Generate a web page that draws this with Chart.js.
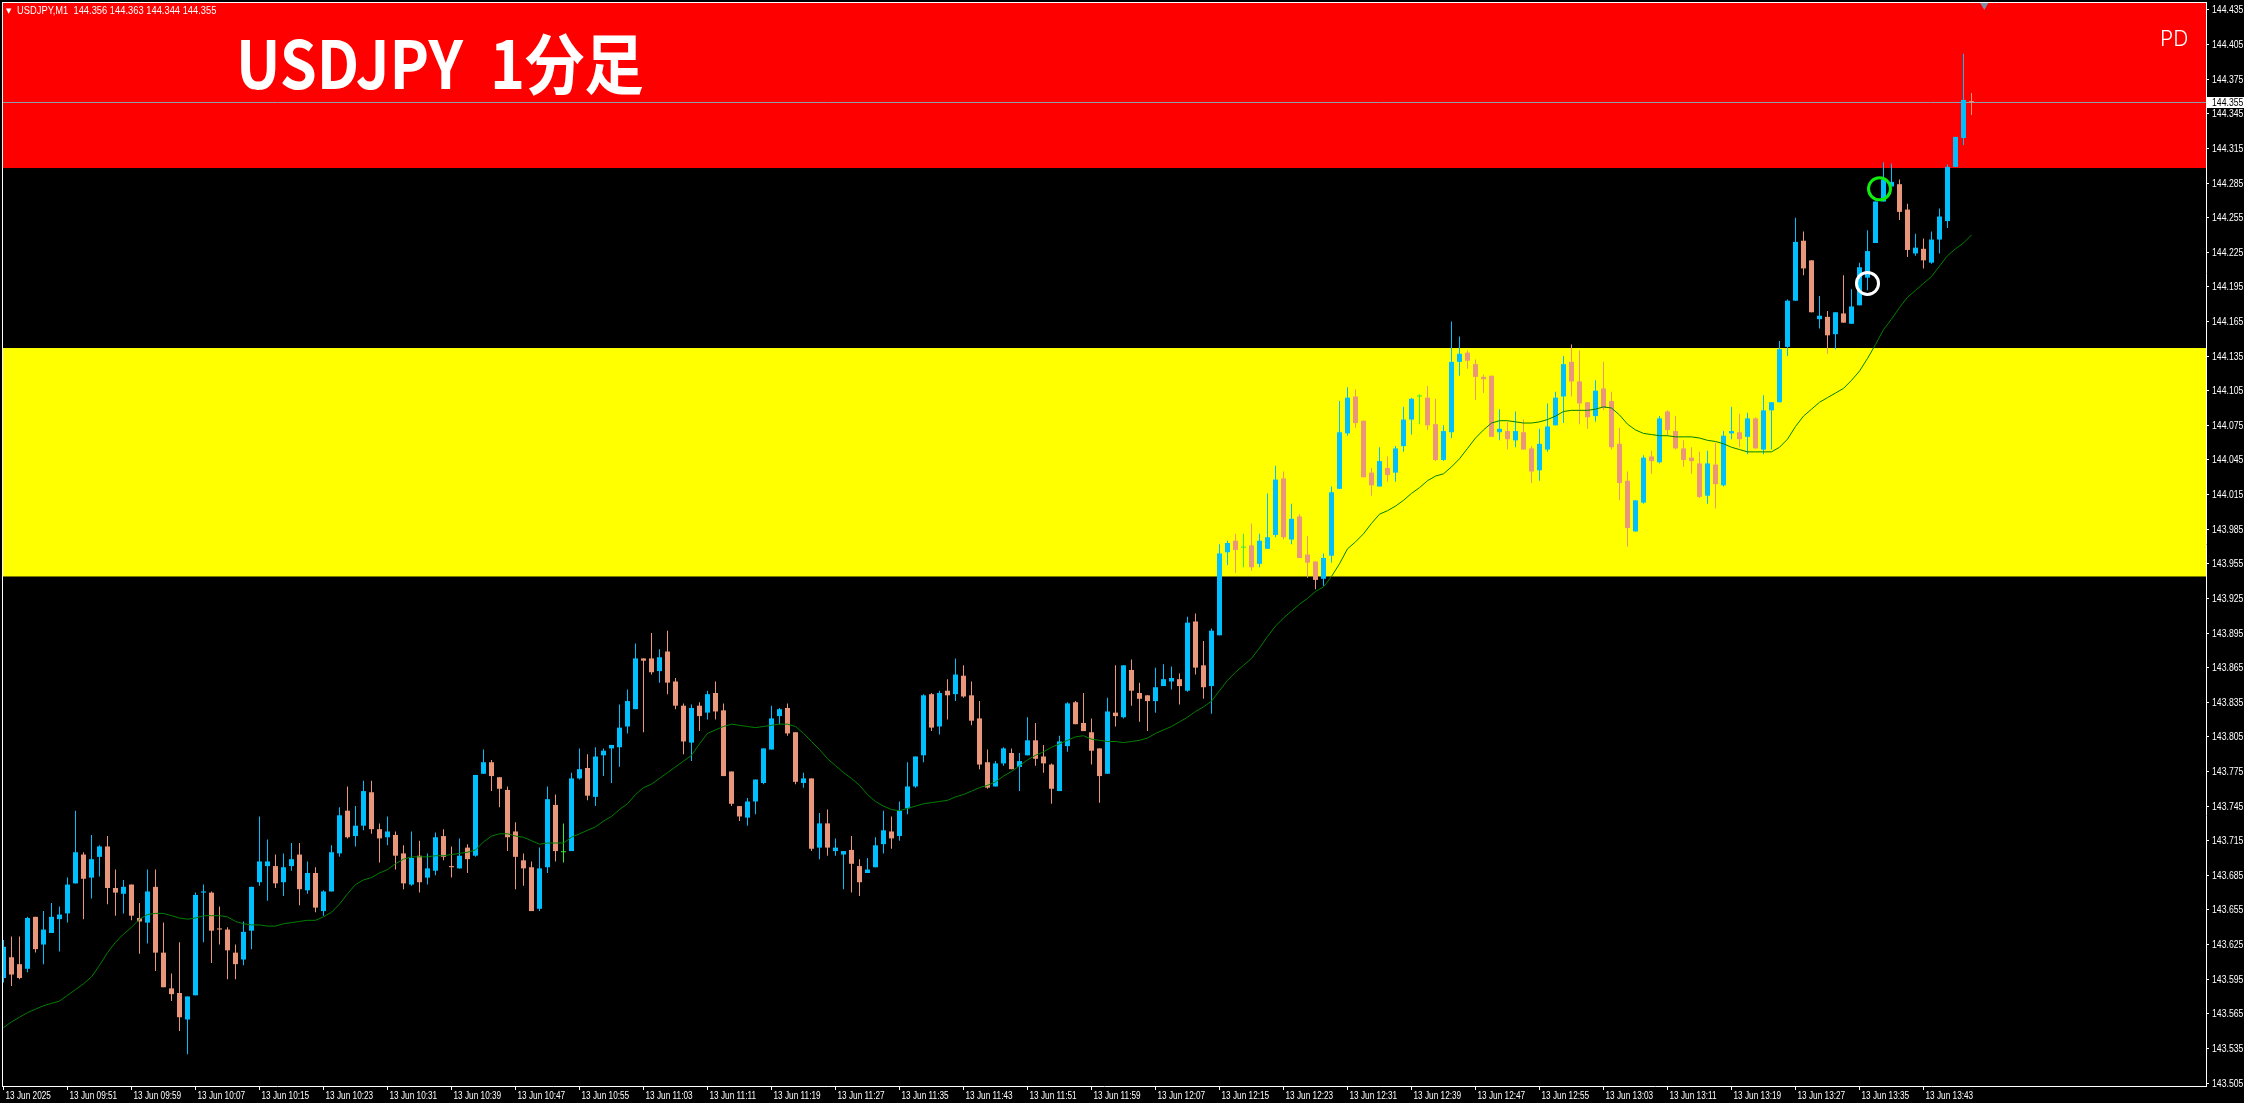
<!DOCTYPE html>
<html>
<head>
<meta charset="utf-8">
<title>USDJPY M1</title>
<script src="https://cdn.jsdelivr.net/npm/chart.js@4.4.1/dist/chart.umd.min.js"></script>
<style>
  html, body { margin: 0; padding: 0; background: #000; overflow: hidden; }
  canvas { display: block; }
</style>
</head>
<body>
<canvas id="chart" width="2244" height="1103"></canvas>
<script>
// ---- data ----
const symbol = "USDJPY,M1";
const title = "USDJPY  1分足";
const cornerTag = "PD";

const xTickLabels = [
  "13 Jun 2025", "13 Jun 09:51", "13 Jun 09:59", "13 Jun 10:07", "13 Jun 10:15", "13 Jun 10:23",
  "13 Jun 10:31", "13 Jun 10:39", "13 Jun 10:47", "13 Jun 10:55", "13 Jun 11:03", "13 Jun 11:11",
  "13 Jun 11:19", "13 Jun 11:27", "13 Jun 11:35", "13 Jun 11:43", "13 Jun 11:51", "13 Jun 11:59",
  "13 Jun 12:07", "13 Jun 12:15", "13 Jun 12:23", "13 Jun 12:31", "13 Jun 12:39", "13 Jun 12:47",
  "13 Jun 12:55", "13 Jun 13:03", "13 Jun 13:11", "13 Jun 13:19", "13 Jun 13:27", "13 Jun 13:35",
  "13 Jun 13:43"
];
const barsPerLabel = 8;

const yTickValues = [
  143.505, 143.535, 143.565, 143.595, 143.625, 143.655, 143.685, 143.715, 143.745, 143.775,
  143.805, 143.835, 143.865, 143.895, 143.925, 143.955, 143.985, 144.015, 144.045, 144.075,
  144.105, 144.135, 144.165, 144.195, 144.225, 144.255, 144.285, 144.315, 144.345, 144.375,
  144.405, 144.435
];

const opens = [
  143.596, 143.614, 143.608, 143.604, 143.649, 143.625, 143.635, 143.647, 143.652, 143.678,
  143.703, 143.683, 143.701, 143.710, 143.674, 143.669, 143.677, 143.648, 143.644, 143.675,
  143.618, 143.587, 143.583, 143.560, 143.581, 143.670, 143.670, 143.639, 143.638, 143.618,
  143.612, 143.637, 143.679, 143.693, 143.693, 143.679, 143.693, 143.703, 143.672, 143.687,
  143.654, 143.671, 143.704, 143.741, 143.719, 143.728, 143.757, 143.725, 143.718, 143.720,
  143.704, 143.677, 143.702, 143.683, 143.689, 143.719, 143.693, 143.691, 143.709, 143.702,
  143.773, 143.783, 143.770, 143.759, 143.723, 143.698, 143.692, 143.656, 143.692, 143.746,
  143.705, 143.706, 143.769, 143.778, 143.753, 143.789, 143.795, 143.796, 143.814, 143.829,
  143.873, 143.873, 143.862, 143.879, 143.853, 143.832, 143.800, 143.832, 143.826, 143.843,
  143.828, 143.775, 143.745, 143.735, 143.749, 143.765, 143.794, 143.823, 143.830, 143.809,
  143.765, 143.769, 143.709, 143.730, 143.706, 143.703, 143.707, 143.693, 143.687, 143.692,
  143.712, 143.723, 143.719, 143.743, 143.762, 143.789, 143.842, 143.814, 143.845, 143.842,
  143.858, 143.841, 143.821, 143.783, 143.762, 143.782, 143.791, 143.779, 143.789, 143.802,
  143.788, 143.781, 143.758, 143.797, 143.835, 143.817, 143.809, 143.795, 143.773, 143.826,
  143.822, 143.863, 143.843, 143.841, 143.836, 143.849, 143.853, 143.855, 143.845, 143.905,
  143.867, 143.849, 143.893, 143.965, 143.975, 143.969, 143.971, 143.955, 143.968, 143.980,
  144.029, 143.976, 143.996, 143.963, 143.957, 143.942, 143.962, 144.020, 144.068, 144.100,
  144.079, 144.034, 144.022, 144.038, 144.034, 144.057, 144.080, 144.100, 144.099, 144.076,
  144.045, 144.069, 144.130, 144.138, 144.128, 144.117, 144.118, 144.069, 144.070, 144.062,
  144.069, 144.055, 144.036, 144.054, 144.075, 144.100, 144.130, 144.113, 144.095, 144.083,
  144.107, 144.096, 144.059, 144.027, 143.983, 144.008, 144.048, 144.043, 144.087, 144.070,
  144.055, 144.047, 144.042, 144.014, 144.041, 144.023, 144.068, 144.069, 144.065, 144.081,
  144.054, 144.088, 144.095, 144.143, 144.183, 144.235, 144.218, 144.167, 144.169, 144.154,
  144.172, 144.163, 144.179, 144.203, 144.233, 144.269, 144.282, 144.284, 144.262, 144.224,
  144.228, 144.216, 144.236, 144.252, 144.299, 144.324, 144.356
];
const highs = [
  143.629, 143.632, 143.632, 143.649, 143.649, 143.654, 143.661, 143.658, 143.683, 143.741,
  143.705, 143.720, 143.711, 143.719, 143.690, 143.681, 143.677, 143.661, 143.690, 143.690,
  143.644, 143.600, 143.627, 143.580, 143.670, 143.677, 143.671, 143.658, 143.640, 143.625,
  143.645, 143.675, 143.736, 143.716, 143.703, 143.704, 143.713, 143.713, 143.697, 143.692,
  143.672, 143.711, 143.744, 143.762, 143.745, 143.767, 143.767, 143.730, 143.736, 143.723,
  143.711, 143.723, 143.715, 143.704, 143.722, 143.725, 143.710, 143.717, 143.712, 143.772,
  143.794, 143.785, 143.770, 143.762, 143.731, 143.704, 143.697, 143.709, 143.762, 143.755,
  143.730, 143.774, 143.795, 143.790, 143.796, 143.795, 143.798, 143.833, 143.846, 143.886,
  143.873, 143.895, 143.881, 143.897, 143.856, 143.834, 143.833, 143.835, 143.845, 143.853,
  143.834, 143.775, 143.745, 143.752, 143.768, 143.795, 143.832, 143.830, 143.834, 143.809,
  143.774, 143.769, 143.739, 143.742, 143.717, 143.706, 143.719, 143.699, 143.700, 143.718,
  143.741, 143.736, 143.749, 143.783, 143.788, 143.842, 143.843, 143.845, 143.855, 143.873,
  143.867, 143.853, 143.836, 143.794, 143.784, 143.796, 143.795, 143.791, 143.822, 143.817,
  143.798, 143.782, 143.806, 143.835, 143.836, 143.843, 143.821, 143.795, 143.839, 143.867,
  143.867, 143.872, 143.852, 143.841, 143.865, 143.868, 143.866, 143.860, 143.909, 143.912,
  143.888, 143.899, 143.972, 143.975, 143.981, 143.981, 143.990, 143.981, 144.016, 144.040,
  144.035, 144.007, 143.998, 143.979, 143.957, 143.964, 144.022, 144.096, 144.108, 144.106,
  144.079, 144.038, 144.056, 144.048, 144.057, 144.091, 144.099, 144.102, 144.109, 144.098,
  144.075, 144.165, 144.152, 144.140, 144.132, 144.119, 144.118, 144.089, 144.078, 144.087,
  144.080, 144.057, 144.072, 144.094, 144.104, 144.135, 144.145, 144.140, 144.095, 144.114,
  144.130, 144.104, 144.073, 144.035, 144.010, 144.049, 144.053, 144.083, 144.088, 144.083,
  144.062, 144.056, 144.052, 144.053, 144.060, 144.070, 144.091, 144.085, 144.086, 144.082,
  144.101, 144.095, 144.148, 144.184, 144.255, 144.243, 144.218, 144.187, 144.174, 144.173,
  144.205, 144.193, 144.216, 144.244, 144.269, 144.303, 144.302, 144.288, 144.267, 144.241,
  144.237, 144.243, 144.263, 144.301, 144.325, 144.397, 144.363
];
const lows = [
  143.592, 143.589, 143.595, 143.601, 143.618, 143.608, 143.635, 143.619, 143.644, 143.678,
  143.647, 143.665, 143.684, 143.660, 143.650, 143.652, 143.646, 143.617, 143.626, 143.602,
  143.588, 143.576, 143.550, 143.530, 143.581, 143.627, 143.609, 143.625, 143.595, 143.595,
  143.607, 143.621, 143.676, 143.663, 143.674, 143.667, 143.689, 143.659, 143.669, 143.653,
  143.650, 143.671, 143.701, 143.717, 143.710, 143.724, 143.721, 143.696, 143.711, 143.690,
  143.673, 143.676, 143.670, 143.677, 143.685, 143.698, 143.683, 143.691, 143.687, 143.701,
  143.773, 143.758, 143.744, 143.706, 143.673, 143.676, 143.654, 143.654, 143.687, 143.697,
  143.696, 143.706, 143.768, 143.750, 143.745, 143.771, 143.765, 143.779, 143.808, 143.829,
  143.809, 143.859, 143.852, 143.842, 143.829, 143.790, 143.784, 143.810, 143.820, 143.820,
  143.771, 143.745, 143.732, 143.728, 143.738, 143.764, 143.794, 143.816, 143.806, 143.764,
  143.761, 143.706, 143.699, 143.702, 143.702, 143.673, 143.670, 143.667, 143.687, 143.692,
  143.704, 143.708, 143.715, 143.738, 143.761, 143.783, 143.810, 143.807, 143.820, 143.836,
  143.839, 143.815, 143.777, 143.760, 143.762, 143.780, 143.777, 143.758, 143.789, 143.780,
  143.774, 143.747, 143.758, 143.792, 143.816, 143.810, 143.781, 143.748, 143.773, 143.814,
  143.821, 143.832, 143.818, 143.810, 143.826, 143.849, 143.846, 143.833, 143.844, 143.859,
  143.838, 143.825, 143.893, 143.954, 143.947, 143.952, 143.949, 143.952, 143.968, 143.978,
  143.976, 143.972, 143.960, 143.943, 143.933, 143.936, 143.956, 144.020, 144.066, 144.073,
  144.030, 144.014, 144.022, 144.026, 144.026, 144.052, 144.067, 144.076, 144.071, 144.044,
  144.044, 144.064, 144.118, 144.124, 144.097, 144.103, 144.065, 144.062, 144.054, 144.056,
  144.054, 144.025, 144.027, 144.052, 144.075, 144.077, 144.100, 144.076, 144.072, 144.078,
  144.088, 144.054, 144.010, 143.970, 143.983, 144.007, 144.033, 144.042, 144.066, 144.054,
  144.039, 144.033, 144.012, 144.007, 144.003, 144.022, 144.063, 144.056, 144.050, 144.055,
  144.050, 144.054, 144.095, 144.135, 144.183, 144.205, 144.173, 144.159, 144.137, 144.141,
  144.164, 144.163, 144.179, 144.192, 144.233, 144.269, 144.282, 144.253, 144.221, 144.222,
  144.211, 144.215, 144.224, 144.246, 144.299, 144.318, 144.344
];
const closes = [
  143.623, 143.599, 143.596, 143.648, 143.621, 143.638, 143.649, 143.651, 143.677, 143.705,
  143.682, 143.699, 143.710, 143.674, 143.670, 143.675, 143.650, 143.645, 143.671, 143.618,
  143.588, 143.582, 143.562, 143.580, 143.668, 143.671, 143.637, 143.638, 143.620, 143.608,
  143.636, 143.675, 143.697, 143.697, 143.678, 143.692, 143.699, 143.673, 143.687, 143.657,
  143.671, 143.705, 143.737, 143.718, 143.728, 143.758, 143.725, 143.717, 143.723, 143.702,
  143.678, 143.700, 143.679, 143.691, 143.718, 143.701, 143.692, 143.702, 143.699, 143.772,
  143.783, 143.771, 143.760, 143.718, 143.701, 143.691, 143.654, 143.691, 143.751, 143.706,
  143.705, 143.769, 143.777, 143.754, 143.788, 143.793, 143.798, 143.813, 143.836, 143.873,
  143.871, 143.861, 143.874, 143.852, 143.832, 143.801, 143.830, 143.823, 143.842, 143.827,
  143.771, 143.747, 143.736, 143.749, 143.768, 143.795, 143.821, 143.829, 143.808, 143.766,
  143.769, 143.708, 143.730, 143.709, 143.709, 143.706, 143.695, 143.679, 143.690, 143.711,
  143.724, 143.717, 143.741, 143.762, 143.788, 143.841, 143.813, 143.843, 143.841, 143.859,
  143.840, 143.819, 143.781, 143.761, 143.782, 143.795, 143.777, 143.784, 143.802, 143.786,
  143.782, 143.760, 143.801, 143.834, 143.816, 143.810, 143.793, 143.771, 143.827, 143.823,
  143.867, 143.845, 143.838, 143.836, 143.848, 143.855, 143.856, 143.849, 143.904, 143.865,
  143.848, 143.897, 143.964, 143.973, 143.967, 143.969, 143.952, 143.975, 143.978, 144.028,
  143.978, 143.994, 143.960, 143.956, 143.941, 143.960, 144.017, 144.069, 144.099, 144.077,
  144.030, 144.023, 144.044, 144.032, 144.055, 144.080, 144.098, 144.100, 144.075, 144.045,
  144.070, 144.130, 144.137, 144.131, 144.117, 144.115, 144.065, 144.072, 144.063, 144.070,
  144.054, 144.035, 144.059, 144.074, 144.099, 144.128, 144.113, 144.094, 144.082, 144.105,
  144.090, 144.056, 144.025, 143.986, 144.010, 144.047, 144.044, 144.081, 144.071, 144.055,
  144.045, 144.044, 144.013, 144.042, 144.024, 144.066, 144.070, 144.063, 144.081, 144.055,
  144.088, 144.095, 144.141, 144.183, 144.234, 144.211, 144.173, 144.170, 144.153, 144.173,
  144.164, 144.178, 144.212, 144.226, 144.269, 144.288, 144.286, 144.260, 144.227, 144.229,
  144.218, 144.236, 144.256, 144.299, 144.325, 144.357, 144.355
];
const maValues = [
  143.553, 143.558, 143.562, 143.566, 143.569, 143.572, 143.574, 143.576, 143.581, 143.586,
  143.591, 143.597, 143.607, 143.618, 143.627, 143.634, 143.640, 143.647, 143.651, 143.652,
  143.652, 143.650, 143.648, 143.647, 143.648, 143.650, 143.650, 143.650, 143.649, 143.645,
  143.643, 143.642, 143.642, 143.641, 143.641, 143.643, 143.644, 143.645, 143.646, 143.646,
  143.649, 143.653, 143.660, 143.669, 143.677, 143.681, 143.683, 143.687, 143.690, 143.695,
  143.699, 143.701, 143.701, 143.701, 143.702, 143.702, 143.703, 143.704, 143.705, 143.707,
  143.714, 143.719, 143.721, 143.721, 143.719, 143.718, 143.715, 143.712, 143.713, 143.713,
  143.713, 143.718, 143.721, 143.724, 143.727, 143.732, 143.736, 143.742, 143.747, 143.755,
  143.761, 143.764, 143.769, 143.774, 143.779, 143.784, 143.789, 143.799, 143.808, 143.811,
  143.814, 143.816, 143.815, 143.814, 143.813, 143.814, 143.815, 143.816, 143.816, 143.814,
  143.808, 143.801, 143.794, 143.786, 143.780, 143.774, 143.769, 143.763, 143.755, 143.749,
  143.745, 143.742, 143.741, 143.743, 143.745, 143.747, 143.748, 143.749, 143.750, 143.753,
  143.755, 143.758, 143.761, 143.763, 143.766, 143.771, 143.775, 143.780, 143.785, 143.789,
  143.792, 143.796, 143.799, 143.802, 143.805, 143.806, 143.803, 143.802, 143.801, 143.801,
  143.800, 143.801, 143.802, 143.804, 143.808, 143.811, 143.814, 143.818, 143.822, 143.827,
  143.831, 143.836, 143.845, 143.854, 143.861, 143.867, 143.873, 143.882, 143.892, 143.901,
  143.908, 143.914, 143.920, 143.925, 143.931, 143.935, 143.944, 143.955, 143.968, 143.974,
  143.981, 143.990, 143.998, 144.001, 144.005, 144.010, 144.016, 144.021, 144.027, 144.031,
  144.033, 144.039, 144.046, 144.055, 144.064, 144.071, 144.077, 144.079, 144.079, 144.078,
  144.077, 144.077, 144.078, 144.080, 144.083, 144.087, 144.088, 144.088, 144.088, 144.089,
  144.091, 144.090, 144.084, 144.076, 144.071, 144.068, 144.067, 144.066, 144.066, 144.065,
  144.065, 144.065, 144.064, 144.062, 144.061, 144.059, 144.056, 144.054, 144.052, 144.052,
  144.052, 144.052, 144.056, 144.063, 144.074, 144.083, 144.089, 144.095, 144.099, 144.103,
  144.107, 144.114, 144.122, 144.133, 144.145, 144.158, 144.167, 144.177, 144.186, 144.192,
  144.198, 144.204, 144.213, 144.222, 144.228, 144.233, 144.240
];

// rectangles drawn on the chart (price ranges)
const redZone = [144.298, 144.600];
const yellowZone = [143.944, 144.142];
const bidPrice = closes[closes.length - 1];

// objects: [bar, price]
const greenMark = [234.5, 144.280];
const whiteMark = [233, 144.198];
const arrowMark = [247.6, 144.4393];

// ---- styles ----
const BULL = '#00bfff';
const BEAR = '#e9967a';
const DOJI = '#33ee33';
const MA_COLOR = '#008000';
const LABEL_FONT = '11px "Liberation Sans", Arial, sans-serif';
const X_SQUEEZE = 0.75; // MT4 axis font is narrow
const Y_SQUEEZE = 0.79;

const idx = opens.map((_, i) => i);
const kind = idx.map(i => closes[i] > opens[i] ? 'bull' : (closes[i] < opens[i] ? 'bear' : 'doji'));
const colorOf = { bull: BULL, bear: BEAR, doji: DOJI };

function wickData(k) {
  return idx.filter(i => kind[i] === k).map(i => ({ x: i, y: [lows[i], highs[i]] }));
}
function bodyData(k) {
  return idx.filter(i => kind[i] === k).map(i => ({
    x: i, y: [Math.min(opens[i], closes[i]), Math.max(opens[i], closes[i])]
  }));
}

const candleSets = [];
['bull', 'bear', 'doji'].forEach(k => {
  candleSets.push({
    type: 'bar', data: wickData(k), backgroundColor: colorOf[k],
    barThickness: 1, grouped: false, borderWidth: 0, inflateAmount: 0, order: 4
  });
  candleSets.push({
    type: 'bar', data: bodyData(k), backgroundColor: colorOf[k],
    barThickness: 5, grouped: false, borderWidth: 0, inflateAmount: 0, minBarLength: 1, order: 3
  });
});

function narrowText(ctx, text, x, y, squeeze) {
  ctx.save();
  ctx.translate(x, y);
  ctx.scale(squeeze, 1);
  ctx.fillText(text, 0, 0);
  ctx.restore();
}

const chartPlugin = {
  id: 'mtLook',
  beforeDraw(chart) {
    const ctx = chart.ctx;
    ctx.save();
    ctx.fillStyle = '#000';
    ctx.fillRect(0, 0, chart.width, chart.height);
    ctx.restore();
  },
  beforeDatasetsDraw(chart) {
    const { ctx, chartArea: a, scales: { y } } = chart;
    ctx.save();
    ctx.beginPath();
    ctx.rect(a.left, a.top, a.right - a.left, a.bottom - a.top);
    ctx.clip();
    [[redZone, '#ff0000'], [yellowZone, '#ffff00']].forEach(([z, col]) => {
      const top = y.getPixelForValue(z[1]);
      const bot = y.getPixelForValue(z[0]);
      ctx.fillStyle = col;
      ctx.fillRect(a.left, top, a.right - a.left, bot - top);
    });
    const py = Math.round(y.getPixelForValue(bidPrice)) + 0.5;
    ctx.strokeStyle = '#8e9cab';
    ctx.lineWidth = 1;
    ctx.beginPath();
    ctx.moveTo(a.left, py);
    ctx.lineTo(a.right, py);
    ctx.stroke();
    ctx.restore();
  },
  afterDraw(chart) {
    const { ctx, chartArea: a, scales: { x, y } } = chart;
    const n = opens.length - 1;
    ctx.save();
    // frame
    ctx.fillStyle = '#ffffff';
    ctx.fillRect(a.left, a.top, a.right - a.left, 1);
    ctx.fillRect(a.left, a.top, 1, a.bottom - a.top);

    // axis labels, placed on the scales' own ticks
    ctx.font = LABEL_FONT;
    ctx.textAlign = 'left';
    ctx.textBaseline = 'top';
    x.ticks.forEach((t, j) => {
      narrowText(ctx, xTickLabels[j], x.getPixelForValue(t.value) + 2, a.bottom + 4, X_SQUEEZE);
    });
    ctx.textBaseline = 'middle';
    y.ticks.forEach(t => {
      narrowText(ctx, t.value.toFixed(3), a.right + 6, y.getPixelForValue(t.value) + 0.5, Y_SQUEEZE);
    });

    // header line
    ctx.textBaseline = 'alphabetic';
    ctx.font = '7px "DejaVu Sans"';
    ctx.fillText('▼', 6, 13);
    ctx.font = LABEL_FONT;
    narrowText(ctx, symbol + '  ' + [opens[n], highs[n], lows[n], closes[n]].map(v => v.toFixed(3)).join(' '), 17, 14, 0.85);

    // big title
    ctx.font = 'bold 66px "Noto Sans CJK JP", sans-serif';
    narrowText(ctx, title, 236, 89, 0.9);

    // corner tag
    ctx.font = '300 21px Inter, Roboto, "DejaVu Sans", sans-serif';
    ctx.fillText(cornerTag, 2160, 46);

    // bid price box on the axis
    const py = Math.round(y.getPixelForValue(bidPrice));
    ctx.fillStyle = '#ffffff';
    ctx.fillRect(a.right + 1, py - 5, chart.width - a.right - 1, 11);
    ctx.fillStyle = '#000000';
    ctx.font = LABEL_FONT;
    ctx.textBaseline = 'middle';
    narrowText(ctx, bidPrice.toFixed(3), a.right + 6, py + 1, Y_SQUEEZE);
    ctx.restore();
  }
};

new Chart(document.getElementById('chart'), {
  type: 'bar',
  data: {
    datasets: [
      {
        type: 'line', data: [{ x: greenMark[0], y: greenMark[1] }], showLine: false,
        pointRadius: 11, pointBorderWidth: 3, pointBorderColor: '#10ee10',
        pointBackgroundColor: 'rgba(0,0,0,0)', order: 0, clip: false
      },
      {
        type: 'line', data: [{ x: whiteMark[0], y: whiteMark[1] }], showLine: false,
        pointRadius: 11, pointBorderWidth: 3, pointBorderColor: '#ffffff',
        pointBackgroundColor: 'rgba(0,0,0,0)', order: 0, clip: false
      },
      {
        type: 'line', data: [{ x: arrowMark[0], y: arrowMark[1] }], showLine: false,
        pointStyle: 'triangle', rotation: 180, pointRadius: 5, pointBorderWidth: 0,
        pointBackgroundColor: '#7b90a6', order: 0, clip: false
      },
      {
        type: 'line', data: idx.map(i => ({ x: i, y: maValues[i] })),
        borderColor: MA_COLOR, borderWidth: 1, pointRadius: 0, tension: 0, fill: false, order: 1
      },
      ...candleSets
    ]
  },
  options: {
    responsive: false,
    maintainAspectRatio: false,
    devicePixelRatio: 1,
    animation: false,
    events: [],
    layout: { autoPadding: false, padding: { left: 2, top: 2, right: 0, bottom: 0 } },
    plugins: { legend: { display: false }, tooltip: { enabled: false } },
    scales: {
      x: {
        type: 'linear',
        position: 'bottom',
        min: -0.1875,
        max: 275.3125,
        bounds: 'data',
        offset: false,
        afterBuildTicks: (s) => { s.ticks = xTickLabels.map((_, j) => ({ value: j * barsPerLabel })); },
        afterFit: (s) => { s.height = 17; s.paddingLeft = 0; s.paddingRight = 0; },
        grid: { offset: false, drawOnChartArea: false, drawTicks: true, tickLength: 4, color: '#ffffff' },
        border: { display: true, color: '#ffffff', width: 1 },
        ticks: { display: false, autoSkip: false, maxRotation: 0, minRotation: 0 }
      },
      y: {
        type: 'linear',
        position: 'right',
        min: 143.5024,
        max: 144.4419,
        bounds: 'data',
        beginAtZero: false,
        afterBuildTicks: (s) => { s.ticks = yTickValues.map(v => ({ value: v })); },
        afterFit: (s) => { s.width = 38; s.paddingTop = 0; s.paddingBottom = 0; },
        grid: { drawOnChartArea: false, drawTicks: true, tickLength: 3, color: '#ffffff' },
        border: { display: true, color: '#ffffff', width: 1 },
        ticks: { display: false, autoSkip: false }
      }
    }
  },
  plugins: [chartPlugin]
});
</script>
</body>
</html>
